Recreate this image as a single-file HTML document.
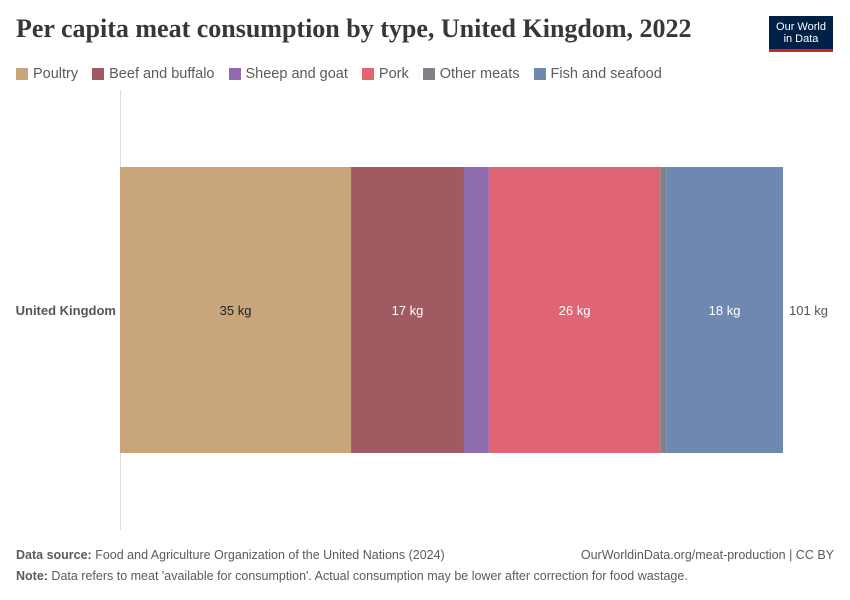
<!DOCTYPE html>
<html><head><meta charset="utf-8">
<style>
body{margin:0;width:850px;height:600px;background:#fff;font-family:"Liberation Sans",sans-serif;position:relative;overflow:hidden}
.title{position:absolute;left:16px;top:14px;font-family:"Liberation Serif",serif;font-size:26px;font-weight:bold;color:#373737;letter-spacing:0px}
.logo{position:absolute;left:769px;top:16px;width:64px;height:36px;background:#002147;border-bottom:3px solid #ce261e;color:#fff;font-size:11px;line-height:12px;text-align:center;padding-top:5px;box-sizing:border-box}
.legend{position:absolute;left:16px;top:66px;font-size:14.5px;color:#5b5b5b;display:flex;gap:14px}
.legend span.i{display:inline-flex;align-items:center;gap:5px}
.sw{width:12px;height:12px;display:inline-block}
.foot{position:absolute;left:16px;font-size:12.5px;color:#5b5b5b}
</style></head><body>
<div class="title">Per capita meat consumption by type, United Kingdom, 2022</div>
<div class="logo">Our World<br>in Data</div>
<div class="legend" id="legend"></div>
<svg width="850" height="600" style="position:absolute;left:0;top:0" id="chart">
<line x1="120.5" y1="90" x2="120.5" y2="530" stroke="#ddd"/>
<text x="116" y="315" text-anchor="end" font-size="13" font-weight="bold" fill="#555">United Kingdom</text>
</svg>
<div class="foot" style="top:548px"><b>Data source:</b> Food and Agriculture Organization of the United Nations (2024)</div>
<div class="foot" style="top:548px;left:auto;right:16px">OurWorldinData.org/meat-production | CC BY</div>
<div class="foot" style="top:569px"><b>Note:</b> Data refers to meat 'available for consumption'. Actual consumption may be lower after correction for food wastage.</div>
<script>
const categories=["Poultry","Beef and buffalo","Sheep and goat","Pork","Other meats","Fish and seafood"];
const values=[35.2,17.2,3.8,26.1,0.9,17.8];
const labels=["35 kg","17 kg","","26 kg","","18 kg"];
const colors=["#c8a57b","#a05a61","#8e6bae","#e06574","#808287","#6f88b1"];
const totalLabel="101 kg";
const x0=120,scale=663/101,y0=167,h=286;
const xs=v=>x0+v*scale;
const svg=document.getElementById('chart');
const ns="http://www.w3.org/2000/svg";
let acc=0;
values.forEach((v,i)=>{
  const r=document.createElementNS(ns,'rect');
  r.setAttribute('x',xs(acc));r.setAttribute('y',y0);r.setAttribute('width',v*scale);r.setAttribute('height',h);r.setAttribute('fill',colors[i]);
  
  
  svg.appendChild(r);
  if(labels[i]){
    const t=document.createElementNS(ns,'text');
    t.setAttribute('x',xs(acc+v/2));t.setAttribute('y',y0+h/2+5);t.setAttribute('text-anchor','middle');t.setAttribute('font-size','13');
    t.setAttribute('fill',i==0?'#222':'#fff');t.textContent=labels[i];
    
    
    svg.appendChild(t);
  }
  acc+=v;
});
const tt=document.createElementNS(ns,'text');
tt.setAttribute('x',xs(acc)+6);tt.setAttribute('y',y0+h/2+5);tt.setAttribute('font-size','13');tt.setAttribute('fill','#555');tt.textContent=totalLabel;


svg.appendChild(tt);
const lg=document.getElementById('legend');
categories.forEach((c,i)=>{
  const s=document.createElement('span');s.className='i';
  
  
  s.innerHTML='<span class="sw" style="background:'+colors[i]+'"></span>'+c;
  lg.appendChild(s);
});
</script>
</body></html>
